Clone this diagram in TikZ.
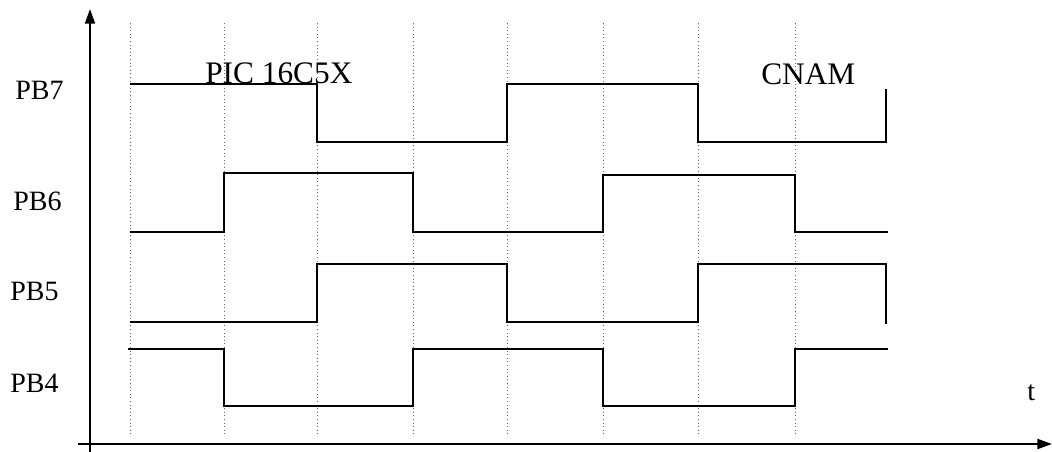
\documentclass[tikz,border=0pt]{standalone}
\usepackage{fontspec}
\setmainfont{Liberation Serif}
\usetikzlibrary{arrows.meta}
\begin{document}
\begin{tikzpicture}[x=0.75pt,y=-0.75pt,
  axis/.style={line width=1.4pt,-{Triangle[length=11pt,width=7.5pt]}},
  grid/.style={black!60,line width=0.7pt,dotted},
  sig/.style={line width=1.9pt,line join=miter},
  lab/.style={anchor=base west,inner sep=0pt,font=\fontsize{21}{24}\selectfont},
  ttl/.style={anchor=base west,inner sep=0pt,font=\fontsize{23.5}{27}\selectfont}]
\useasboundingbox (0,0) rectangle (1052,452);
% grid
\foreach \x in {130,224,317,413,507,603,698,795}
  \draw[grid] (\x,23) -- (\x,437);
% axes
\coordinate (yb) at (90,452);
\coordinate (yt) at (90,9);
\coordinate (xl) at (78,444);
\coordinate (xr) at (1052,444);
\draw[axis] (yb) -- (yt);
\draw[axis] (xl) -- (xr);
% PB7
\draw[sig] (130,84) -- (317,84) -- (317,142) -- (507,142) -- (507,84) -- (698,84) -- (698,142) -- (886,142) -- (886,89);
% PB6
\draw[sig] (130,232) -- (224,232) -- (224,173) -- (413,173) -- (413,232) -- (603,232) -- (603,175) -- (795,175) -- (795,232) -- (888,232);
% PB5
\draw[sig] (130,322) -- (317,322) -- (317,264) -- (507,264) -- (507,322) -- (698,322) -- (698,264) -- (886,264) -- (886,324);
% PB4
\draw[sig] (128,349) -- (224,349) -- (224,406) -- (413,406) -- (413,349) -- (603,349) -- (603,406) -- (795,406) -- (795,349) -- (888,349);
% labels
\node[lab] (pb7) at (15,100) {PB7};
\node[lab] (pb6) at (13,211) {PB6};
\node[lab] (pb5) at (10,300) {PB5};
\node[lab] (pb4) at (10,392) {PB4};
\node[lab] (t) at (1027,400) {t};
\node[ttl] (pic) at (205,84) {PIC 16C5X};
\node[ttl] (cnam) at (761,85) {CNAM};
\end{tikzpicture}
\end{document}
